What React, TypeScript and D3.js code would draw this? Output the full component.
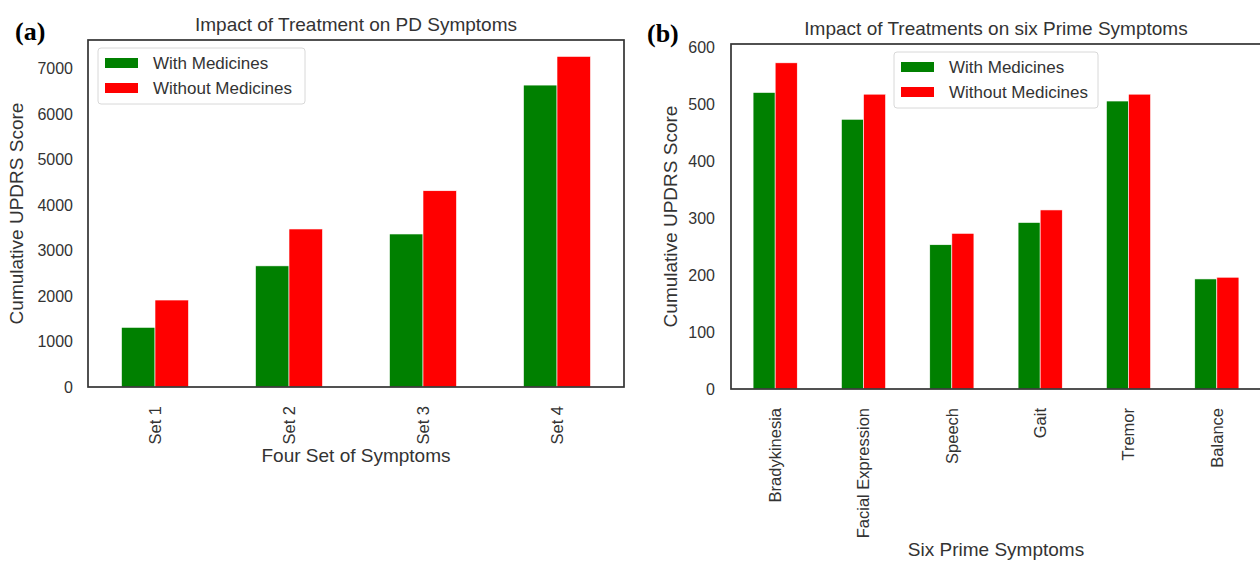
import React from "react";
import * as d3 from "d3";

// panel (a) data
const setLabels = ["Set 1", "Set 2", "Set 3", "Set 4"];
const setWith = [1310, 2660, 3360, 6630];
const setWithout = [1910, 3470, 4310, 7260];
const setTicks = [0, 1000, 2000, 3000, 4000, 5000, 6000, 7000];
const setYMax = 7620;

// panel (b) data
const symptomLabels = ["Bradykinesia", "Facial Expression", "Speech", "Gait", "Tremor", "Balance"];
const symptomWith = [520, 473, 253, 292, 505, 193];
const symptomWithout = [572, 517, 273, 314, 517, 196];
const symptomTicks = [0, 100, 200, 300, 400, 500, 600];
const symptomYMax = 605;

const seriesNames = ["With Medicines", "Without Medicines"];
const seriesColors = ["#008000", "#ff0000"];

const FONT = "'Liberation Sans', Arial, sans-serif";
const TEXT = "#333";

const BarPanel = ({ box, labels, withVals, withoutVals, ticks, yMax, title, titleY, xLabel, xLabelY, tag, tagX, tagY, legendBox, yLabelX, tickEndX }) => {
  // pandas style: bar group is half a category wide, axis ends half a category out
  const x = d3.scaleBand().domain(labels).range([box.left, box.right]).paddingInner(0.5).paddingOuter(0.25);
  const inner = d3.scaleBand().domain(seriesNames).range([0, x.bandwidth()]);
  const y = d3.scaleLinear().domain([0, yMax]).range([box.bottom, box.top]);
  const series = [withVals, withoutVals];
  const midX = (box.left + box.right) / 2;

  return (
    <g>
      {/* bars */}
      {labels.map((lab, i) =>
        series.map((vals, s) => (
          <rect
            key={lab + s}
            x={x(lab) + inner(seriesNames[s])}
            y={y(vals[i])}
            width={inner.bandwidth()}
            height={y(0) - y(vals[i])}
            fill={seriesColors[s]}
            stroke="#fff"
            strokeWidth={0.6}
          />
        ))
      )}

      {/* frame */}
      <rect x={box.left} y={box.top} width={box.right - box.left} height={box.bottom - box.top}
        fill="none" stroke="#333" strokeWidth={1.7} />

      {/* y ticks */}
      {ticks.map((t) => (
        <text key={t} x={tickEndX} y={y(t)} dy="0.36em" textAnchor="end" fontSize={16} fill={TEXT} fontFamily={FONT}>
          {t}
        </text>
      ))}

      {/* x ticks */}
      {labels.map((lab) => {
        const px = x(lab) + x.bandwidth() / 2;
        return (
          <text key={lab} transform={`translate(${px},${box.bottom + 19}) rotate(-90)`} dy="0.36em"
            textAnchor="end" fontSize={16.5} fill={TEXT} fontFamily={FONT}>
            {lab}
          </text>
        );
      })}

      {/* axis labels */}
      <text x={midX} y={xLabelY} textAnchor="middle" fontSize={19} fill={TEXT} fontFamily={FONT}>{xLabel}</text>
      <text transform={`translate(${yLabelX},${(box.top + box.bottom) / 2}) rotate(-90)`} textAnchor="middle"
        fontSize={19} fill={TEXT} fontFamily={FONT}>
        Cumulative UPDRS Score
      </text>

      {/* title */}
      <text x={midX} y={titleY} textAnchor="middle" fontSize={19} fill={TEXT} fontFamily={FONT}>{title}</text>

      {/* panel tag */}
      <text x={tagX} y={tagY} fontSize={26} fontWeight="bold" fill="#000" fontFamily="'Liberation Serif', 'Times New Roman', serif">
        {tag}
      </text>

      {/* legend */}
      <g transform={`translate(${legendBox.x},${legendBox.y})`}>
        <rect x={0} y={0} width={legendBox.w} height={56} rx={3} fill="#fff" fillOpacity={0.9} stroke="#d8d8d8" strokeWidth={1} />
        {seriesNames.map((name, s) => (
          <g key={name} transform={`translate(0,${15 + s * 25})`}>
            <rect x={7} y={-5} width={33} height={10} fill={seriesColors[s]} />
            <text x={55} y={0} dy="0.36em" fontSize={17} fill={TEXT} fontFamily={FONT}>{name}</text>
          </g>
        ))}
      </g>
    </g>
  );
};

export default function App() {
  return (
    <svg width={1260} height={561} style={{ position: "absolute", left: 0, top: 0, background: "#fff" }}>
      <rect width={1260} height={561} fill="#fff" />
      <BarPanel
        box={{ left: 88, right: 624, top: 40, bottom: 387 }}
        labels={setLabels}
        withVals={setWith}
        withoutVals={setWithout}
        ticks={setTicks}
        yMax={setYMax}
        title="Impact of Treatment on PD Symptoms"
        titleY={31}
        xLabel="Four Set of Symptoms"
        xLabelY={462}
        tag="(a)"
        tagX={15}
        tagY={40}
        legendBox={{ x: 98, y: 48, w: 207 }}
        yLabelX={23}
        tickEndX={73}
      />
      <BarPanel
        box={{ left: 731, right: 1261, top: 44, bottom: 389 }}
        labels={symptomLabels}
        withVals={symptomWith}
        withoutVals={symptomWithout}
        ticks={symptomTicks}
        yMax={symptomYMax}
        title="Impact of Treatments on six Prime Symptoms"
        titleY={35}
        xLabel="Six Prime Symptoms"
        xLabelY={556}
        tag="(b)"
        tagX={647}
        tagY={42}
        legendBox={{ x: 894, y: 52, w: 204 }}
        yLabelX={677}
        tickEndX={715}
      />
    </svg>
  );
}
